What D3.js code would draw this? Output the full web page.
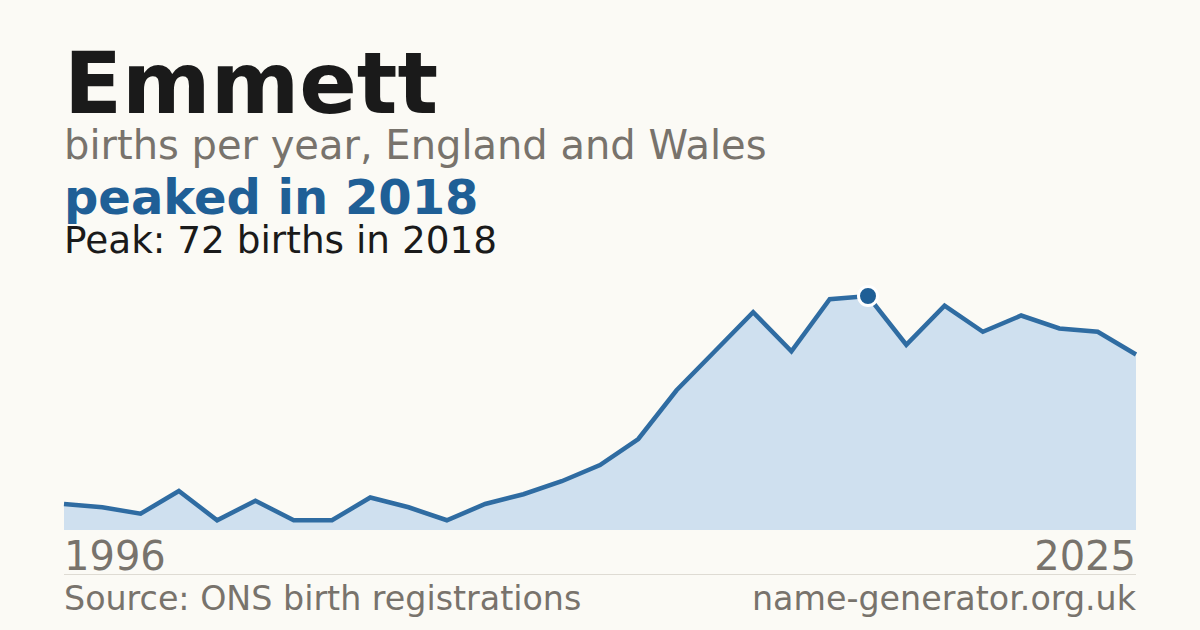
<!DOCTYPE html>
<html><head><meta charset="utf-8">
<script src="https://cdn.jsdelivr.net/npm/d3@7"></script>
<style>html,body{margin:0;padding:0;background:#fbfaf5;}svg{display:block;}</style>
</head><body>
<script>
const years = [1997,1998,1999,2000,2001,2002,2003,2004,2005,2006,2007,2008,2009,2010,2011,2012,2013,2014,2015,2016,2017,2018,2019,2020,2021,2022,2023,2024,2025];
const births = [8,7,5,12,3,9,3,3,10,7,3,8,11,15,20,28,43,55,67,55,71,72,57,69,61,66,62,61,54];
const axisLabels = ["1996","2025"];
const title = "Emmett";
const subtitle = "births per year, England and Wales";
const headline = "peaked in 2018";
const peakNote = "Peak: 72 births in 2018";
const source = "Source: ONS birth registrations";
const site = "name-generator.org.uk";

const W=1200,H=630;
const svg=d3.select("body").append("svg").attr("width",W).attr("height",H);
svg.append("rect").attr("width",W).attr("height",H).attr("fill","#fbfaf5");
const font="DejaVu Sans, sans-serif";
const grey="#78736c", blue="#1f5f96", ink="#1a1a1a";

svg.append("text").attr("x",64).attr("y",113).attr("font-family",font).attr("font-weight","bold").attr("font-size",85).attr("fill",ink).text(title);
svg.append("text").attr("x",64).attr("y",159).attr("font-family",font).attr("font-size",40).attr("fill",grey).text(subtitle);
svg.append("text").attr("x",64).attr("y",214).attr("font-family",font).attr("font-weight","bold").attr("font-size",48).attr("fill",blue).text(headline);
svg.append("text").attr("x",64).attr("y",253).attr("font-family",font).attr("font-size",37.4).attr("fill",ink).text(peakNote);

const x=d3.scaleLinear().domain(d3.extent(years)).range([64,1136]);
const y=d3.scaleLinear().domain([0,d3.max(births)]).range([530,296]);
const data=years.map((yr,i)=>({yr,v:births[i]}));

svg.append("path").datum(data).attr("fill","#cfe0ef")
  .attr("d",d3.area().x(d=>x(d.yr)).y0(y(0)).y1(d=>y(d.v)));
svg.append("path").datum(data).attr("fill","none").attr("stroke","#2f6ca2").attr("stroke-width",4.5).attr("stroke-linejoin","miter")
  .attr("d",d3.line().x(d=>x(d.yr)).y(d=>y(d.v)));

const peak=data.reduce((a,b)=>b.v>a.v?b:a);
svg.append("circle").attr("cx",x(peak.yr)).attr("cy",y(peak.v)).attr("r",9.5).attr("fill",blue).attr("stroke","#ffffff").attr("stroke-width",3);

svg.append("text").attr("x",64).attr("y",570).attr("font-family",font).attr("font-size",40).attr("fill",grey).text(axisLabels[0]);
svg.append("text").attr("x",1136).attr("y",570).attr("text-anchor","end").attr("font-family",font).attr("font-size",40).attr("fill",grey).text(axisLabels[1]);
svg.append("line").attr("x1",64).attr("x2",1136).attr("y1",574.5).attr("y2",574.5).attr("stroke","#dedbd3").attr("stroke-width",1);
svg.append("text").attr("x",64).attr("y",610).attr("font-family",font).attr("font-size",33.3).attr("fill",grey).text(source);
svg.append("text").attr("x",1136).attr("y",610).attr("text-anchor","end").attr("font-family",font).attr("font-size",33.3).attr("fill",grey).text(site);
</script>
</body></html>
